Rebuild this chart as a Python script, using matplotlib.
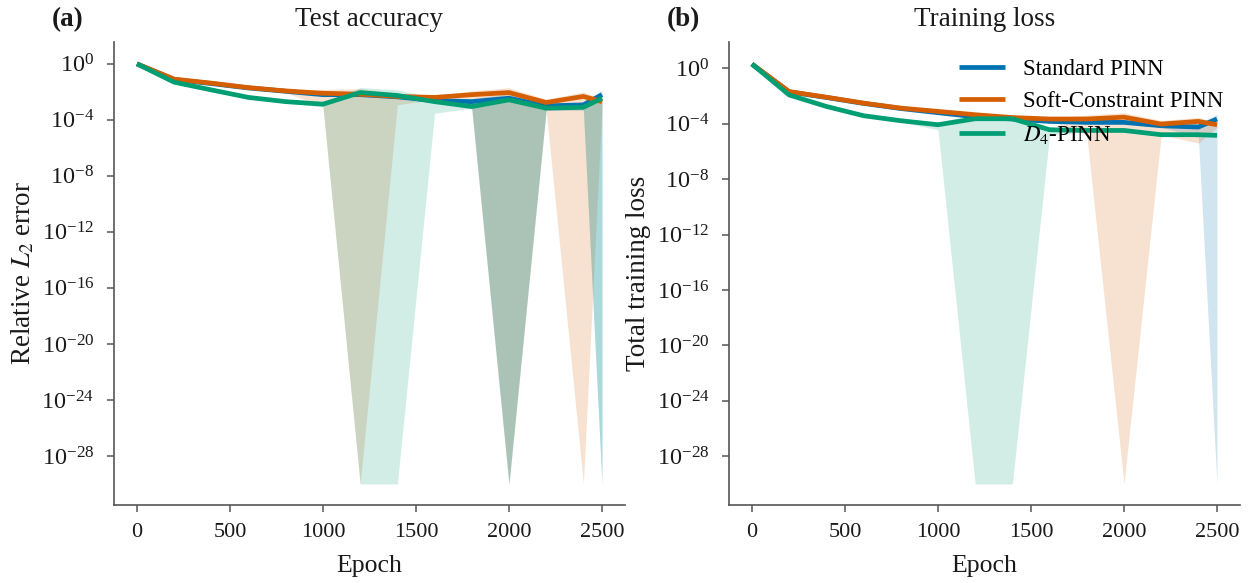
import numpy as np
import matplotlib
matplotlib.use("Agg")
import matplotlib.pyplot as plt
from matplotlib.ticker import FixedLocator, NullLocator, LogFormatterSciNotation
from matplotlib.transforms import offset_copy

plt.rcParams['font.family'] = ['Liberation Serif', 'DejaVu Serif']
plt.rcParams['mathtext.fontset'] = 'stix'

# ---------------- data ----------------
epochs = [0, 200, 400, 600, 800, 1000, 1200, 1400, 1600, 1800, 2000, 2200, 2400, 2500]
series_names = ["Standard PINN", "Soft-Constraint PINN", "$D_4$-PINN"]
colors = ["#0072B2", "#D55E00", "#009E73"]

# (a) Test accuracy: relative L2 error, mean and std
acc_std_mean = [1.0, 7.6e-2, 3.9e-2, 1.9e-2, 1.1e-2, 6.3e-3, 6.3e-3, 4.4e-3, 2.4e-3, 2.0e-3, 3.5e-3, 1.0e-3, 1.17e-3, 6.3e-3]
acc_std_std = [0.2, 1.5e-2, 7.8e-3, 3.8e-3, 2.2e-3, 1.3e-3, 1.3e-3, 9e-4, 5e-4, 1.4e-3, 3.9e-3, 5e-4, 7e-4, 7.0e-3]
acc_soft_mean = [1.0, 8.1e-2, 4.2e-2, 2.0e-2, 1.17e-2, 7.9e-3, 6.8e-3, 4.7e-3, 4.0e-3, 6.3e-3, 8.9e-3, 1.74e-3, 4.7e-3, 2.0e-3]
acc_soft_std = [0.2, 1.6e-2, 8.4e-3, 4.0e-3, 2.9e-3, 7.0e-3, 1.02e-2, 3.5e-3, 1.2e-3, 5.6e-3, 1.1e-2, 1.22e-3, 5.2e-3, 1.2e-3]
acc_d4_mean = [1.0, 4.9e-2, 1.38e-2, 4.0e-3, 2.0e-3, 1.32e-3, 8.9e-3, 5.5e-3, 2.0e-3, 8.9e-4, 2.7e-3, 6.8e-4, 7.9e-4, 3.5e-3]
acc_d4_std = [0.2, 9.8e-3, 2.8e-3, 8e-4, 4e-4, 4.6e-4, 1.16e-2, 8.3e-3, 1.7e-3, 2.2e-4, 3.0e-3, 1.4e-4, 2.4e-4, 3.9e-3]

# (b) Training loss: mean and std
loss_std_mean = [2.04, 2.0e-2, 7.9e-3, 2.95e-3, 1.26e-3, 6.3e-4, 3.2e-4, 2.2e-4, 1.48e-4, 1.26e-4, 1.26e-4, 7.2e-5, 5.8e-5, 2.2e-4]
loss_std_std = [0.5, 4e-3, 1.6e-3, 6e-4, 2.5e-4, 1.3e-4, 6e-5, 4.4e-5, 3e-5, 2.5e-5, 2.5e-5, 1.4e-5, 4.8e-5, 2.6e-4]
loss_soft_mean = [2.04, 2.1e-2, 8.3e-3, 3.1e-3, 1.35e-3, 7.8e-4, 4.5e-4, 2.8e-4, 2.2e-4, 2.2e-4, 3.0e-4, 9.5e-5, 1.48e-4, 8.5e-5]
loss_soft_std = [0.5, 4e-3, 1.6e-3, 6e-4, 2.7e-4, 1.5e-4, 9e-5, 5.6e-5, 4.4e-5, 2.05e-4, 3.3e-4, 7.9e-5, 1.44e-4, 3.0e-5]
loss_d4_mean = [2.04, 1.2e-2, 1.78e-3, 3.8e-4, 1.66e-4, 8.5e-5, 2.3e-4, 2.3e-4, 3.7e-5, 3.3e-5, 3.3e-5, 1.62e-5, 1.62e-5, 1.45e-5]
loss_d4_std = [0.5, 2.4e-3, 3.6e-4, 7.6e-5, 3.3e-5, 4.8e-5, 2.4e-4, 2.4e-4, 2.1e-5, 6.6e-6, 6.6e-6, 3.2e-6, 3.2e-6, 2.9e-6]

y_floor = 1e-30
ytick_vals = [1e0, 1e-4, 1e-8, 1e-12, 1e-16, 1e-20, 1e-24, 1e-28]
xtick_vals = [0, 500, 1000, 1500, 2000, 2500]

panels = [
    dict(tag="(a)", title="Test accuracy", ylabel="Relative $L_2$ error",
         means=[acc_std_mean, acc_soft_mean, acc_d4_mean],
         stds=[acc_std_std, acc_soft_std, acc_d4_std], legend=False),
    dict(tag="(b)", title="Training loss", ylabel="Total training loss",
         means=[loss_std_mean, loss_soft_mean, loss_d4_mean],
         stds=[loss_std_std, loss_soft_std, loss_d4_std], legend=True),
]

fig = plt.figure(figsize=(12.59, 5.83), dpi=100)
ax_rects = [[0.0903, 0.1338, 0.4063, 0.7947], [0.5788, 0.1338, 0.4063, 0.7947]]
txt_color = '#1a1a1a'

x = np.array(epochs, dtype=float)
for rect, p in zip(ax_rects, panels):
    ax = fig.add_axes(rect)
    for m, s, c in zip(p["means"], p["stds"], colors):
        m = np.array(m); s = np.array(s)
        lo = np.maximum(m - s, y_floor)
        hi = m + s
        ax.fill_between(x, lo, hi, color=c, alpha=0.18, lw=0)
    for m, c, name in zip(p["means"], colors, series_names):
        ax.plot(x, m, color=c, lw=3.4, label=name, solid_capstyle='butt')
    ax.set_yscale('log')
    ax.yaxis.set_major_locator(FixedLocator(ytick_vals))
    ax.yaxis.set_major_formatter(LogFormatterSciNotation())
    ax.yaxis.set_minor_locator(NullLocator())
    ax.set_xticks(xtick_vals)
    ax.set_xlim(-125, 2625)
    ax.spines['top'].set_visible(False)
    ax.spines['right'].set_visible(False)
    for sp in ('left', 'bottom'):
        ax.spines[sp].set_color('#555555')
        ax.spines[sp].set_linewidth(1.2)
    ax.tick_params(axis='both', which='major', length=5,
                   width=1.1, color='#555555', labelcolor=txt_color)
    ax.tick_params(axis='x', labelsize=16, pad=8)
    ax.tick_params(axis='y', labelsize=17.5, pad=9)
    ax.set_xlabel("Epoch", fontsize=18.5, color=txt_color, labelpad=9)
    ax.set_ylabel(p["ylabel"], fontsize=19.5, color=txt_color, labelpad=4)
    ax.set_title(p["title"], fontsize=19.5, color=txt_color, pad=11)
    tr = offset_copy(ax.transAxes, fig=fig, y=11, units='points')
    ax.text(-0.121, 1.0, p["tag"], transform=tr, fontsize=19.5,
            fontweight='bold', ha='left', va='baseline', color=txt_color)
    if p["legend"]:
        ax.legend(loc='upper right', bbox_to_anchor=(1.012, 1.013), frameon=False,
                  fontsize=16.5, handlelength=2.0, handletextpad=0.8,
                  labelspacing=0.5, borderaxespad=0.6)

fig.savefig("out.png", dpi=100)
